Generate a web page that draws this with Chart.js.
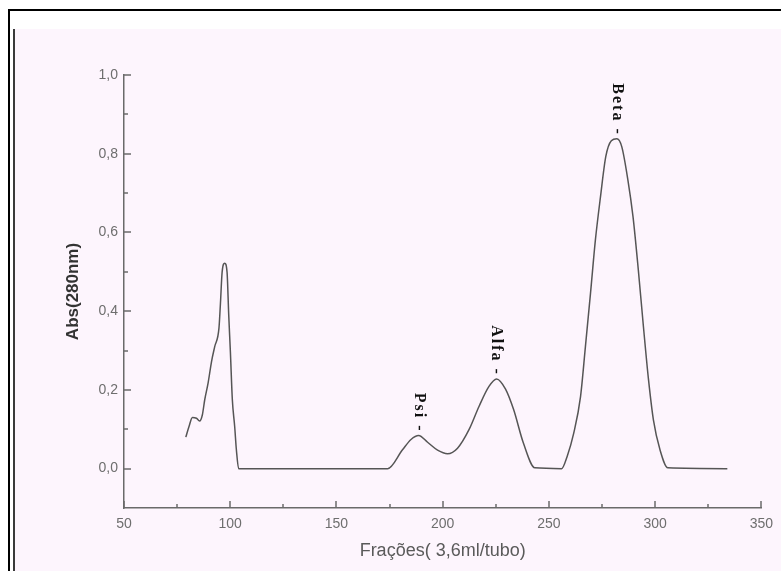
<!DOCTYPE html>
<html>
<head>
<meta charset="utf-8">
<script src="https://cdn.jsdelivr.net/npm/chart.js@4.4.1/dist/chart.umd.min.js"></script>
<style>
  html, body { margin: 0; padding: 0; background: #fff; width: 781px; height: 571px; overflow: hidden; }
  #frame { position: absolute; left: 8px; top: 9px; width: 773px; height: 562px;
           border-top: 2px solid #000; border-left: 2px solid #000; box-sizing: border-box; }
  #rule  { position: absolute; left: 13px; top: 29px; width: 2px; height: 542px; background: #3a3a3a; }
  #plot  { position: absolute; left: 15px; top: 29px; width: 766px; height: 542px; background: #fdf5fd; }
</style>
</head>
<body>
<div id="frame"></div>
<div id="rule"></div>
<div id="plot"><canvas id="c" width="766" height="542"></canvas></div>
<script>
// Elution profile: fraction number vs absorbance at 280 nm
const fractions = [
  79.1, 80.6, 82.2, 84.1, 85.6, 86.9, 88.0, 89.6, 91.2, 92.7, 94.7, 95.4, 96.2, 97.4,
  98.5, 99.3, 100.1, 101.0, 102.1, 102.9, 104.0,
  174.1, 181.1, 185.1, 188.7, 192.9, 197.6, 202.3, 207.0, 212.4, 217.1, 221.8, 225.4,
  229.6, 233.4, 238.0, 243.4,
  256.0, 258.6, 261.7, 264.9, 267.2, 269.6, 271.9, 274.3, 276.8, 279.4, 282.0, 284.3,
  287.2, 289.6, 292.1, 294.5, 296.9, 299.2, 302.3, 306.0,
  334.0
];
const absorbance = [
  0.080, 0.107, 0.130, 0.128, 0.121, 0.137, 0.175, 0.218, 0.272, 0.310, 0.357, 0.420, 0.500, 0.522,
  0.500, 0.390, 0.294, 0.175, 0.107, 0.048, 0.000,
  0.000, 0.048, 0.074, 0.084, 0.067, 0.047, 0.038, 0.052, 0.099, 0.158, 0.209, 0.228,
  0.202, 0.150, 0.065, 0.002,
  0.000, 0.031, 0.090, 0.183, 0.310, 0.446, 0.581, 0.691, 0.793, 0.833, 0.838, 0.818,
  0.733, 0.640, 0.505, 0.361, 0.226, 0.124, 0.048, 0.002,
  0.000
];

// Named peaks (fraction at the peak apex)
const peakNames = ['Psi', 'Alfa', 'Beta'];
const peakFractions = [188.7, 225.4, 282.0];

// Axis ticks
const xTicks = [50, 100, 150, 200, 250, 300, 350];
const xMinorTicks = [75, 125, 175, 225, 275, 325];
const yTicks = [0.0, 0.2, 0.4, 0.6, 0.8, 1.0];
const yMinorTicks = [0.1, 0.3, 0.5, 0.7, 0.9];

const axisColor = '#6a6a6a';

// Inward tick marks on both axes
const tickMarks = {
  id: 'tickMarks',
  afterDraw(chart) {
    const { ctx, scales: { x, y }, chartArea } = chart;
    ctx.save();
    ctx.strokeStyle = axisColor;
    ctx.lineWidth = 1.5;
    const mark = (x1, y1, x2, y2) => { ctx.beginPath(); ctx.moveTo(x1, y1); ctx.lineTo(x2, y2); ctx.stroke(); };
    xTicks.forEach(v => { const p = Math.round(x.getPixelForValue(v)); mark(p, chartArea.bottom, p, chartArea.bottom - 7); });
    xMinorTicks.forEach(v => { const p = Math.round(x.getPixelForValue(v)); mark(p, chartArea.bottom, p, chartArea.bottom - 4); });
    yTicks.forEach(v => { const p = Math.round(y.getPixelForValue(v)); mark(chartArea.left, p, chartArea.left + 7, p); });
    yMinorTicks.forEach(v => { const p = Math.round(y.getPixelForValue(v)); mark(chartArea.left, p, chartArea.left + 4, p); });
    ctx.restore();
  }
};

// Vertical peak names above each apex
const peakLabels = {
  id: 'peakLabels',
  afterDatasetsDraw(chart) {
    const { ctx, scales: { x, y } } = chart;
    ctx.save();
    ctx.fillStyle = '#111';
    ctx.font = 'bold 16px "Liberation Serif", "Times New Roman", serif';
    ctx.textAlign = 'right';
    ctx.textBaseline = 'middle';
    if ('letterSpacing' in ctx) ctx.letterSpacing = '2px';
    peakNames.forEach((name, i) => {
      const idx = fractions.indexOf(peakFractions[i]);
      const px = x.getPixelForValue(fractions[idx]);
      const py = y.getPixelForValue(absorbance[idx]);
      ctx.save();
      ctx.translate(px, py - 3);
      ctx.rotate(Math.PI / 2);
      ctx.fillText(name + ' -', 0, 0);
      ctx.restore();
    });
    ctx.restore();
  }
};

new Chart(document.getElementById('c'), {
  type: 'line',
  data: {
    datasets: [{
      data: fractions.map((f, i) => ({ x: f, y: absorbance[i] })),
      borderColor: '#555',
      borderWidth: 1.5,
      pointRadius: 0,
      cubicInterpolationMode: 'monotone',
      fill: false
    }]
  },
  options: {
    responsive: false,
    devicePixelRatio: 1,
    animation: false,
    events: [],
    layout: { padding: { top: 46, right: 18, bottom: 0, left: 0 } },
    plugins: { legend: { display: false }, tooltip: { enabled: false } },
    scales: {
      x: {
        type: 'linear',
        min: 50, max: 350,
        afterFit: s => { s.height = 63; },
        afterBuildTicks: s => { s.ticks = xTicks.map(v => ({ value: v })); },
        grid: { display: false, drawTicks: false },
        border: { display: true, color: axisColor, width: 1.5 },
        ticks: { padding: 8, color: '#6e6e6e', font: { family: 'Liberation Sans, Arial, sans-serif', size: 14 }, maxRotation: 0 },
        title: {
          display: true, text: 'Frações( 3,6ml/tubo)', color: '#5a5a5a',
          font: { family: 'Liberation Sans, Arial, sans-serif', size: 18, lineHeight: 1.2 },
          padding: { top: 0, bottom: 9 }
        }
      },
      y: {
        type: 'linear',
        min: -0.1, max: 1.0,
        afterFit: s => { s.width = 109; },
        afterBuildTicks: s => { s.ticks = yTicks.map(v => ({ value: v })); },
        grid: { display: false, drawTicks: false },
        border: { display: true, color: axisColor, width: 1.5 },
        ticks: {
          padding: 6, color: '#6e6e6e',
          font: { family: 'Liberation Sans, Arial, sans-serif', size: 14 },
          callback: v => v.toFixed(1).replace('.', ',')
        },
        title: {
          display: true, text: 'Abs(280nm)', color: '#333',
          font: { family: 'Liberation Sans, Arial, sans-serif', size: 17, weight: 'bold', lineHeight: 1.2 },
          padding: { top: 48, bottom: 0 }
        }
      }
    }
  },
  plugins: [tickMarks, peakLabels]
});
</script>
</body>
</html>
